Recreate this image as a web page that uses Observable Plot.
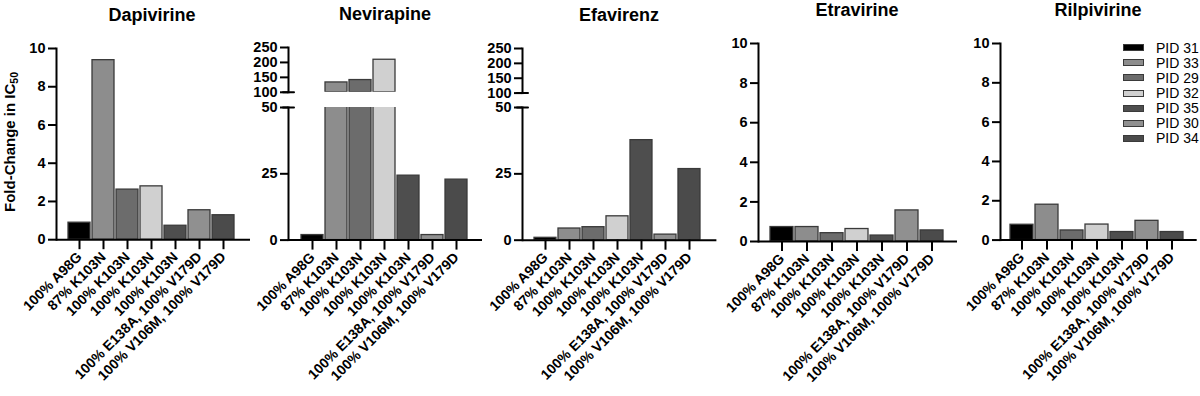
<!DOCTYPE html>
<html><head><meta charset="utf-8">
<script src="https://cdn.jsdelivr.net/npm/d3@7"></script>
<script src="https://cdn.jsdelivr.net/npm/@observablehq/plot@0.6"></script>
<style>
body{margin:0;background:#fff;font-family:"Liberation Sans",Arial,sans-serif;}
#root{position:relative;width:1200px;height:396px;overflow:hidden;background:#fff;}
.abs{position:absolute;}
.title{font-weight:bold;font-size:18px;line-height:1;transform:translate(-50%,-50%);white-space:nowrap;}
.ylab{font-weight:bold;font-size:15px;line-height:1;white-space:nowrap;transform:translate(-50%,-50%) rotate(-90deg);}
.ylab sub{font-size:70%;vertical-align:-3px;}
.leg{font-size:14px;line-height:1;white-space:nowrap;transform:translateY(-50%);}
.sw{box-sizing:border-box;border:1px solid #3a3a3a;}
</style></head><body><div id="root"></div>
<script>
// ---- data ----
const pids = ["PID 31","PID 33","PID 29","PID 32","PID 35","PID 30","PID 34"];
const mutations = ["100% A98G","87% K103N","100% K103N","100% K103N","100% K103N","100% E138A, 100% V179D","100% V106M, 100% V179D"];
const colors = ["#000000","#8d8d8d","#6c6c6c","#d0d0d0","#4e4e4e","#909090","#4b4b4b"];
const drugs = ["Dapivirine","Nevirapine","Efavirenz","Etravirine","Rilpivirine"];
const dapivirine  = [0.89, 9.39, 2.62, 2.79, 0.73, 1.54, 1.28];
const nevirapine  = [1.9, 133, 141, 209, 24.3, 1.9, 22.8];
const efavirenz   = [0.9, 4.4, 4.9, 9.0, 37.7, 2.1, 26.8];
const etravirine  = [0.73, 0.73, 0.42, 0.63, 0.30, 1.57, 0.56];
const rilpivirine = [0.78, 1.80, 0.49, 0.79, 0.41, 0.98, 0.41];
const yTicksSmall = [0, 2, 4, 6, 8, 10];
const yTicksLower = [0, 25, 50];
const yTicksUpper = [100, 150, 200, 250];
const values = [dapivirine, nevirapine, efavirenz, etravirine, rilpivirine];

// ---- layout (pixels) ----
const layout = [
  {axisX:56,    xEnd:250,   pi:0.08, po:0.53, align:0.42, title:[152,15],
   segs:[{domain:[0,10], ticks:yTicksSmall, top:47.5, bottom:238.7, showX:true}]},
  {axisX:288,   xEnd:482,   pi:0.08, po:0.50, align:0.465, title:[385,14],
   segs:[{domain:[0,50], ticks:yTicksLower, top:106.7, bottom:239.3, showX:true, capTop:true},
         {domain:[100,250], ticks:yTicksUpper, top:46.7, bottom:91.5, showX:false, capBottom:true}]},
  {axisX:522.3, xEnd:716.7, pi:0.08, po:0.48, align:0.44, title:[619,15],
   segs:[{domain:[0,50], ticks:yTicksLower, top:107.3, bottom:240, showX:true, capTop:true},
         {domain:[100,250], ticks:yTicksUpper, top:47.7, bottom:92.3, showX:false, capBottom:true}]},
  {axisX:757.7, xEnd:956.7, pi:0.10, po:0.48, align:0.45, title:[857,10],
   segs:[{domain:[0,10], ticks:yTicksSmall, top:42.7, bottom:240.7, showX:true}]},
  {axisX:1000,  xEnd:1196.7, pi:0.10, po:0.46, align:0.42, title:[1098,10],
   segs:[{domain:[0,10], ticks:yTicksSmall, top:42.7, bottom:239.3, showX:true}]}
];

const root = document.getElementById("root");
const capShape = {draw(ctx, l) { ctx.moveTo(0, 0); ctx.lineTo(0, -l); }};
const FONT = "Liberation Sans, Arial, sans-serif";

function segment(vals, lay, seg) {
  const data = pids.map((p, i) => ({pid: p, v: vals[i]}));
  const mL = 50, mR = 4, mT = 12, mB = seg.showX ? 396 - seg.bottom : 8;
  const W = lay.xEnd - lay.axisX;
  const lo = seg.domain[0];
  const marks = [
    Plot.barY(data.filter(d => d.v > lo), {x: "pid", y1: lo, y2: "v", fill: "pid", stroke: "#3a3a3a", strokeWidth: 1.3, clip: true}),
    Plot.axisY({ticks: seg.ticks, label: null, tickSize: 8, tickPadding: 3, fontSize: 14.5, fontWeight: "bold", strokeWidth: 2, tickFormat: d => String(d)}),
    Plot.frame({anchor: "left", strokeWidth: 2})
  ];
  if (seg.showX) {
    marks.push(Plot.ruleY([lo], {strokeWidth: 2}));
    marks.push(Plot.axisX({label: null, tickRotate: -45, tickSize: 10, tickPadding: 5, fontSize: 14, fontWeight: "bold", strokeWidth: 2,
      tickFormat: d => mutations[pids.indexOf(d)]}));
  }
  if (seg.capTop) marks.push(Plot.vector([seg.domain[1]], {y: d => d, frameAnchor: "left", rotate: 90, anchor: "middle", length: 11, shape: capShape, stroke: "black", strokeWidth: 2}));
  if (seg.capBottom) marks.push(Plot.vector([seg.domain[0]], {y: d => d, frameAnchor: "left", rotate: 90, anchor: "middle", length: 11, shape: capShape, stroke: "black", strokeWidth: 2}));
  const svg = Plot.plot({
    width: W + mL + mR, height: seg.bottom - seg.top + mT + mB,
    marginLeft: mL, marginRight: mR, marginTop: mT, marginBottom: mB,
    style: {background: "transparent", overflow: "visible", fontFamily: FONT},
    x: {domain: pids, paddingInner: lay.pi, paddingOuter: lay.po, align: lay.align, axis: null, label: null},
    y: {domain: seg.domain, axis: null, label: null},
    color: {domain: pids, range: colors},
    marks
  });
  svg.style.position = "absolute";
  svg.style.left = (lay.axisX - mL) + "px";
  svg.style.top = (seg.top - mT) + "px";
  root.appendChild(svg);
}

layout.forEach((lay, k) => {
  lay.segs.forEach(seg => segment(values[k], lay, seg));
  const t = document.createElement("div");
  t.className = "abs title";
  t.style.left = lay.title[0] + "px";
  t.style.top = lay.title[1] + "px";
  t.textContent = drugs[k];
  root.appendChild(t);
});

const yl = document.createElement("div");
yl.className = "abs ylab";
yl.style.left = "11px"; yl.style.top = "142px";
yl.innerHTML = "Fold-Change in IC<sub>50</sub>";
root.appendChild(yl);

pids.forEach((p, i) => {
  const cy = 47.7 + i * 15.1;
  const sw = document.createElement("div");
  sw.className = "abs sw";
  sw.style.left = "1123px"; sw.style.top = (cy - 3.5) + "px";
  sw.style.width = "21px"; sw.style.height = "7px";
  sw.style.background = colors[i];
  root.appendChild(sw);
  const lb = document.createElement("div");
  lb.className = "abs leg";
  lb.style.left = "1156px"; lb.style.top = cy + "px";
  lb.textContent = p;
  root.appendChild(lb);
});
</script></body></html>
